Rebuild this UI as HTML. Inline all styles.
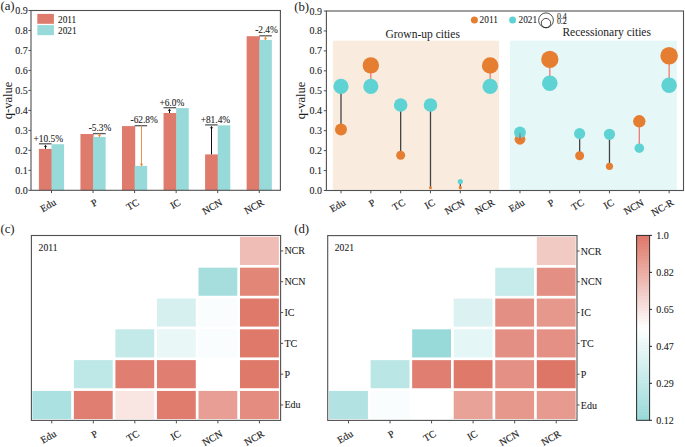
<!DOCTYPE html>
<html><head><meta charset="utf-8"><style>
html,body{margin:0;padding:0;background:#fff;}
body{width:685px;height:447px;overflow:hidden;}
svg{display:block;font-family:"Liberation Serif", serif;}
text{stroke:#1a1a1a;stroke-width:0.08px;paint-order:stroke;}
text.L{stroke:none;}
text.R{stroke-width:0.14px;}
</style></head><body>
<svg width="685" height="447" viewBox="0 0 685 447">
<rect width="685" height="447" fill="#fff"/>
<rect x="38.90" y="148.90" width="13.20" height="41.40" fill="#DF7B6C" />
<rect x="51.50" y="144.20" width="12.60" height="46.10" fill="#98DAD9" />
<rect x="80.45" y="134.00" width="13.20" height="56.30" fill="#DF7B6C" />
<rect x="93.05" y="136.90" width="12.60" height="53.40" fill="#98DAD9" />
<rect x="122.00" y="126.10" width="13.20" height="64.20" fill="#DF7B6C" />
<rect x="134.60" y="165.90" width="12.60" height="24.40" fill="#98DAD9" />
<rect x="163.55" y="113.00" width="13.20" height="77.30" fill="#DF7B6C" />
<rect x="176.15" y="108.10" width="12.60" height="82.20" fill="#98DAD9" />
<rect x="205.10" y="154.40" width="13.20" height="35.90" fill="#DF7B6C" />
<rect x="217.70" y="125.30" width="12.60" height="65.00" fill="#98DAD9" />
<rect x="246.65" y="36.20" width="13.20" height="154.10" fill="#DF7B6C" />
<rect x="259.25" y="39.90" width="12.60" height="150.40" fill="#98DAD9" />
<line x1="38.90" y1="143.80" x2="51.50" y2="143.80" stroke="#5a5a5a" stroke-width="1.3" />
<line x1="45.50" y1="148.90" x2="45.50" y2="146.90" stroke="#111" stroke-width="1.0" />
<path d="M43.95,147.10 L45.50,144.70 L47.05,147.10 Z" fill="#111"/>
<text x="48.30" y="138.60" font-size="9.4" text-anchor="middle" dominant-baseline="central" fill="#1a1a1a" >+10.5%</text>
<line x1="93.05" y1="133.60" x2="105.65" y2="133.60" stroke="#5a5a5a" stroke-width="1.3" />
<line x1="99.50" y1="133.60" x2="99.50" y2="135.00" stroke="#F09040" stroke-width="1.0" />
<path d="M97.95,134.80 L99.50,137.40 L101.05,134.80 Z" fill="#EE8A35"/>
<text x="100.00" y="127.90" font-size="9.4" text-anchor="middle" dominant-baseline="central" fill="#1a1a1a" >-5.3%</text>
<line x1="134.60" y1="125.70" x2="147.20" y2="125.70" stroke="#5a5a5a" stroke-width="1.3" />
<line x1="141.50" y1="125.70" x2="141.50" y2="164.00" stroke="#F09040" stroke-width="1.0" />
<path d="M139.95,163.80 L141.50,166.40 L143.05,163.80 Z" fill="#EE8A35"/>
<text x="144.20" y="120.00" font-size="9.4" text-anchor="middle" dominant-baseline="central" fill="#1a1a1a" >-62.8%</text>
<line x1="163.55" y1="107.70" x2="176.15" y2="107.70" stroke="#5a5a5a" stroke-width="1.3" />
<line x1="169.50" y1="113.00" x2="169.50" y2="110.80" stroke="#111" stroke-width="1.0" />
<path d="M167.95,111.00 L169.50,108.60 L171.05,111.00 Z" fill="#111"/>
<text x="171.80" y="102.50" font-size="9.4" text-anchor="middle" dominant-baseline="central" fill="#1a1a1a" >+6.0%</text>
<line x1="205.10" y1="124.90" x2="217.70" y2="124.90" stroke="#5a5a5a" stroke-width="1.3" />
<line x1="211.50" y1="154.40" x2="211.50" y2="128.00" stroke="#111" stroke-width="1.0" />
<path d="M209.95,128.20 L211.50,125.80 L213.05,128.20 Z" fill="#111"/>
<text x="215.40" y="119.50" font-size="9.4" text-anchor="middle" dominant-baseline="central" fill="#1a1a1a" >+81.4%</text>
<line x1="259.25" y1="35.80" x2="271.85" y2="35.80" stroke="#5a5a5a" stroke-width="1.3" />
<line x1="265.50" y1="35.80" x2="265.50" y2="38.00" stroke="#F09040" stroke-width="1.0" />
<path d="M263.95,37.80 L265.50,40.40 L267.05,37.80 Z" fill="#EE8A35"/>
<text x="266.50" y="30.30" font-size="9.4" text-anchor="middle" dominant-baseline="central" fill="#1a1a1a" >-2.4%</text>
<rect x="31.00" y="10.50" width="249.40" height="179.80" fill="none" stroke="#505050" stroke-width="1.1"/>
<line x1="28.40" y1="190.30" x2="31.00" y2="190.30" stroke="#505050" stroke-width="1.0" />
<text x="27.80" y="190.30" font-size="10.0" text-anchor="end" dominant-baseline="central" fill="#1a1a1a" >0.0</text>
<line x1="28.40" y1="170.32" x2="31.00" y2="170.32" stroke="#505050" stroke-width="1.0" />
<text x="27.80" y="170.32" font-size="10.0" text-anchor="end" dominant-baseline="central" fill="#1a1a1a" >0.1</text>
<line x1="28.40" y1="150.34" x2="31.00" y2="150.34" stroke="#505050" stroke-width="1.0" />
<text x="27.80" y="150.34" font-size="10.0" text-anchor="end" dominant-baseline="central" fill="#1a1a1a" >0.2</text>
<line x1="28.40" y1="130.37" x2="31.00" y2="130.37" stroke="#505050" stroke-width="1.0" />
<text x="27.80" y="130.37" font-size="10.0" text-anchor="end" dominant-baseline="central" fill="#1a1a1a" >0.3</text>
<line x1="28.40" y1="110.39" x2="31.00" y2="110.39" stroke="#505050" stroke-width="1.0" />
<text x="27.80" y="110.39" font-size="10.0" text-anchor="end" dominant-baseline="central" fill="#1a1a1a" >0.4</text>
<line x1="28.40" y1="90.41" x2="31.00" y2="90.41" stroke="#505050" stroke-width="1.0" />
<text x="27.80" y="90.41" font-size="10.0" text-anchor="end" dominant-baseline="central" fill="#1a1a1a" >0.5</text>
<line x1="28.40" y1="70.43" x2="31.00" y2="70.43" stroke="#505050" stroke-width="1.0" />
<text x="27.80" y="70.43" font-size="10.0" text-anchor="end" dominant-baseline="central" fill="#1a1a1a" >0.6</text>
<line x1="28.40" y1="50.46" x2="31.00" y2="50.46" stroke="#505050" stroke-width="1.0" />
<text x="27.80" y="50.46" font-size="10.0" text-anchor="end" dominant-baseline="central" fill="#1a1a1a" >0.7</text>
<line x1="28.40" y1="30.48" x2="31.00" y2="30.48" stroke="#505050" stroke-width="1.0" />
<text x="27.80" y="30.48" font-size="10.0" text-anchor="end" dominant-baseline="central" fill="#1a1a1a" >0.8</text>
<line x1="28.40" y1="10.50" x2="31.00" y2="10.50" stroke="#505050" stroke-width="1.0" />
<text x="27.80" y="10.50" font-size="10.0" text-anchor="end" dominant-baseline="central" fill="#1a1a1a" >0.9</text>
<line x1="51.50" y1="190.30" x2="51.50" y2="193.10" stroke="#505050" stroke-width="1.0" />
<text x="0" y="0" font-size="10.0" class="R" text-anchor="end" dominant-baseline="central" fill="#1a1a1a" transform="translate(55.00,201.30) rotate(-30)">Edu</text>
<line x1="93.05" y1="190.30" x2="93.05" y2="193.10" stroke="#505050" stroke-width="1.0" />
<text x="0" y="0" font-size="10.0" class="R" text-anchor="end" dominant-baseline="central" fill="#1a1a1a" transform="translate(96.55,201.30) rotate(-30)">P</text>
<line x1="134.60" y1="190.30" x2="134.60" y2="193.10" stroke="#505050" stroke-width="1.0" />
<text x="0" y="0" font-size="10.0" class="R" text-anchor="end" dominant-baseline="central" fill="#1a1a1a" transform="translate(138.10,201.30) rotate(-30)">TC</text>
<line x1="176.15" y1="190.30" x2="176.15" y2="193.10" stroke="#505050" stroke-width="1.0" />
<text x="0" y="0" font-size="10.0" class="R" text-anchor="end" dominant-baseline="central" fill="#1a1a1a" transform="translate(179.65,201.30) rotate(-30)">IC</text>
<line x1="217.70" y1="190.30" x2="217.70" y2="193.10" stroke="#505050" stroke-width="1.0" />
<text x="0" y="0" font-size="10.0" class="R" text-anchor="end" dominant-baseline="central" fill="#1a1a1a" transform="translate(221.20,201.30) rotate(-30)">NCN</text>
<line x1="259.25" y1="190.30" x2="259.25" y2="193.10" stroke="#505050" stroke-width="1.0" />
<text x="0" y="0" font-size="10.0" class="R" text-anchor="end" dominant-baseline="central" fill="#1a1a1a" transform="translate(262.75,201.30) rotate(-30)">NCR</text>
<text x="0" y="0" class="L" font-size="12.5" text-anchor="middle" dominant-baseline="central" fill="#1a1a1a" transform="translate(7.9,100.5) rotate(-90)">q-value</text>
<rect x="37.30" y="13.90" width="16.60" height="9.90" fill="#DF7B6C" />
<rect x="37.30" y="25.10" width="16.60" height="10.10" fill="#98DAD9" />
<text x="58.00" y="19.90" font-size="9.3" text-anchor="start" dominant-baseline="central" fill="#1a1a1a" >2011</text>
<text x="58.00" y="30.90" font-size="9.3" text-anchor="start" dominant-baseline="central" fill="#1a1a1a" >2021</text>
<text x="0.40" y="6.40" font-size="12.8" text-anchor="start" dominant-baseline="central" fill="#1a1a1a"  class="L">(a)</text>
<rect x="332.90" y="40.70" width="166.10" height="149.80" fill="#F9ECDF" />
<rect x="509.90" y="40.70" width="166.90" height="149.80" fill="#E5F7F7" />
<text x="422.70" y="34.00" font-size="11.5" text-anchor="middle" dominant-baseline="central" fill="#1a1a1a"  class="L">Grown-up cities</text>
<text x="606.70" y="32.20" font-size="11.5" text-anchor="middle" dominant-baseline="central" fill="#1a1a1a"  class="L">Recessionary cities</text>
<line x1="341.00" y1="129.60" x2="341.00" y2="86.40" stroke="#444" stroke-width="1.3" />
<circle cx="341.00" cy="129.60" r="6.00" fill="#E67E32"/>
<circle cx="341.00" cy="86.40" r="7.60" fill="#5FD3D3"/>
<line x1="370.83" y1="65.40" x2="370.83" y2="86.40" stroke="#F07A72" stroke-width="1.3" />
<circle cx="370.83" cy="65.40" r="8.20" fill="#E67E32"/>
<circle cx="370.83" cy="86.40" r="7.60" fill="#5FD3D3"/>
<line x1="400.66" y1="155.30" x2="400.66" y2="105.00" stroke="#444" stroke-width="1.3" />
<circle cx="400.66" cy="155.30" r="4.50" fill="#E67E32"/>
<circle cx="400.66" cy="105.00" r="6.80" fill="#5FD3D3"/>
<line x1="430.49" y1="187.70" x2="430.49" y2="105.00" stroke="#444" stroke-width="1.3" />
<circle cx="430.49" cy="187.70" r="1.50" fill="#E67E32"/>
<circle cx="430.49" cy="105.00" r="6.80" fill="#5FD3D3"/>
<line x1="460.32" y1="187.70" x2="460.32" y2="181.60" stroke="#444" stroke-width="1.3" />
<circle cx="460.32" cy="187.70" r="1.60" fill="#E67E32"/>
<circle cx="460.32" cy="181.60" r="2.60" fill="#5FD3D3"/>
<line x1="490.15" y1="65.50" x2="490.15" y2="86.40" stroke="#F07A72" stroke-width="1.3" />
<circle cx="490.15" cy="65.50" r="8.30" fill="#E67E32"/>
<circle cx="490.15" cy="86.40" r="7.70" fill="#5FD3D3"/>
<circle cx="519.98" cy="139.30" r="5.40" fill="#E67E32"/>
<circle cx="519.98" cy="132.40" r="5.90" fill="#5FD3D3"/>
<line x1="519.98" y1="132.90" x2="519.98" y2="140.10" stroke="#888" stroke-width="1.2" />
<line x1="519.98" y1="136.30" x2="519.98" y2="140.10" stroke="#F25C4A" stroke-width="1.2" />
<line x1="549.81" y1="59.40" x2="549.81" y2="83.30" stroke="#F07A72" stroke-width="1.3" />
<circle cx="549.81" cy="59.40" r="8.60" fill="#E67E32"/>
<circle cx="549.81" cy="83.30" r="7.80" fill="#5FD3D3"/>
<line x1="579.64" y1="155.80" x2="579.64" y2="133.60" stroke="#444" stroke-width="1.3" />
<circle cx="579.64" cy="155.80" r="4.50" fill="#E67E32"/>
<circle cx="579.64" cy="133.60" r="5.60" fill="#5FD3D3"/>
<line x1="609.47" y1="166.30" x2="609.47" y2="134.30" stroke="#444" stroke-width="1.3" />
<circle cx="609.47" cy="166.30" r="3.60" fill="#E67E32"/>
<circle cx="609.47" cy="134.30" r="5.60" fill="#5FD3D3"/>
<line x1="639.30" y1="121.30" x2="639.30" y2="148.20" stroke="#F07A72" stroke-width="1.3" />
<circle cx="639.30" cy="121.30" r="6.20" fill="#E67E32"/>
<circle cx="639.30" cy="148.20" r="4.80" fill="#5FD3D3"/>
<line x1="669.13" y1="55.80" x2="669.13" y2="85.30" stroke="#F07A72" stroke-width="1.3" />
<circle cx="669.13" cy="55.80" r="8.80" fill="#E67E32"/>
<circle cx="669.13" cy="85.30" r="7.80" fill="#5FD3D3"/>
<rect x="326.40" y="11.00" width="357.10" height="179.50" fill="none" stroke="#505050" stroke-width="1.1"/>
<line x1="323.80" y1="190.50" x2="326.40" y2="190.50" stroke="#505050" stroke-width="1.0" />
<text x="322.10" y="190.50" font-size="10.0" text-anchor="end" dominant-baseline="central" fill="#1a1a1a" >0.0</text>
<line x1="323.80" y1="170.56" x2="326.40" y2="170.56" stroke="#505050" stroke-width="1.0" />
<text x="322.10" y="170.56" font-size="10.0" text-anchor="end" dominant-baseline="central" fill="#1a1a1a" >0.1</text>
<line x1="323.80" y1="150.61" x2="326.40" y2="150.61" stroke="#505050" stroke-width="1.0" />
<text x="322.10" y="150.61" font-size="10.0" text-anchor="end" dominant-baseline="central" fill="#1a1a1a" >0.2</text>
<line x1="323.80" y1="130.67" x2="326.40" y2="130.67" stroke="#505050" stroke-width="1.0" />
<text x="322.10" y="130.67" font-size="10.0" text-anchor="end" dominant-baseline="central" fill="#1a1a1a" >0.3</text>
<line x1="323.80" y1="110.72" x2="326.40" y2="110.72" stroke="#505050" stroke-width="1.0" />
<text x="322.10" y="110.72" font-size="10.0" text-anchor="end" dominant-baseline="central" fill="#1a1a1a" >0.4</text>
<line x1="323.80" y1="90.78" x2="326.40" y2="90.78" stroke="#505050" stroke-width="1.0" />
<text x="322.10" y="90.78" font-size="10.0" text-anchor="end" dominant-baseline="central" fill="#1a1a1a" >0.5</text>
<line x1="323.80" y1="70.83" x2="326.40" y2="70.83" stroke="#505050" stroke-width="1.0" />
<text x="322.10" y="70.83" font-size="10.0" text-anchor="end" dominant-baseline="central" fill="#1a1a1a" >0.6</text>
<line x1="323.80" y1="50.89" x2="326.40" y2="50.89" stroke="#505050" stroke-width="1.0" />
<text x="322.10" y="50.89" font-size="10.0" text-anchor="end" dominant-baseline="central" fill="#1a1a1a" >0.7</text>
<line x1="323.80" y1="30.94" x2="326.40" y2="30.94" stroke="#505050" stroke-width="1.0" />
<text x="322.10" y="30.94" font-size="10.0" text-anchor="end" dominant-baseline="central" fill="#1a1a1a" >0.8</text>
<line x1="323.80" y1="11.00" x2="326.40" y2="11.00" stroke="#505050" stroke-width="1.0" />
<text x="322.10" y="11.00" font-size="10.0" text-anchor="end" dominant-baseline="central" fill="#1a1a1a" >0.9</text>
<line x1="341.00" y1="190.50" x2="341.00" y2="193.30" stroke="#505050" stroke-width="1.0" />
<text x="0" y="0" font-size="10.0" class="R" text-anchor="end" dominant-baseline="central" fill="#1a1a1a" transform="translate(344.50,201.50) rotate(-30)">Edu</text>
<line x1="370.83" y1="190.50" x2="370.83" y2="193.30" stroke="#505050" stroke-width="1.0" />
<text x="0" y="0" font-size="10.0" class="R" text-anchor="end" dominant-baseline="central" fill="#1a1a1a" transform="translate(374.33,201.50) rotate(-30)">P</text>
<line x1="400.66" y1="190.50" x2="400.66" y2="193.30" stroke="#505050" stroke-width="1.0" />
<text x="0" y="0" font-size="10.0" class="R" text-anchor="end" dominant-baseline="central" fill="#1a1a1a" transform="translate(404.16,201.50) rotate(-30)">TC</text>
<line x1="430.49" y1="190.50" x2="430.49" y2="193.30" stroke="#505050" stroke-width="1.0" />
<text x="0" y="0" font-size="10.0" class="R" text-anchor="end" dominant-baseline="central" fill="#1a1a1a" transform="translate(433.99,201.50) rotate(-30)">IC</text>
<line x1="460.32" y1="190.50" x2="460.32" y2="193.30" stroke="#505050" stroke-width="1.0" />
<text x="0" y="0" font-size="10.0" class="R" text-anchor="end" dominant-baseline="central" fill="#1a1a1a" transform="translate(463.82,201.50) rotate(-30)">NCN</text>
<line x1="490.15" y1="190.50" x2="490.15" y2="193.30" stroke="#505050" stroke-width="1.0" />
<text x="0" y="0" font-size="10.0" class="R" text-anchor="end" dominant-baseline="central" fill="#1a1a1a" transform="translate(493.65,201.50) rotate(-30)">NCR</text>
<line x1="519.98" y1="190.50" x2="519.98" y2="193.30" stroke="#505050" stroke-width="1.0" />
<text x="0" y="0" font-size="10.0" class="R" text-anchor="end" dominant-baseline="central" fill="#1a1a1a" transform="translate(523.48,201.50) rotate(-30)">Edu</text>
<line x1="549.81" y1="190.50" x2="549.81" y2="193.30" stroke="#505050" stroke-width="1.0" />
<text x="0" y="0" font-size="10.0" class="R" text-anchor="end" dominant-baseline="central" fill="#1a1a1a" transform="translate(553.31,201.50) rotate(-30)">P</text>
<line x1="579.64" y1="190.50" x2="579.64" y2="193.30" stroke="#505050" stroke-width="1.0" />
<text x="0" y="0" font-size="10.0" class="R" text-anchor="end" dominant-baseline="central" fill="#1a1a1a" transform="translate(583.14,201.50) rotate(-30)">TC</text>
<line x1="609.47" y1="190.50" x2="609.47" y2="193.30" stroke="#505050" stroke-width="1.0" />
<text x="0" y="0" font-size="10.0" class="R" text-anchor="end" dominant-baseline="central" fill="#1a1a1a" transform="translate(612.97,201.50) rotate(-30)">IC</text>
<line x1="639.30" y1="190.50" x2="639.30" y2="193.30" stroke="#505050" stroke-width="1.0" />
<text x="0" y="0" font-size="10.0" class="R" text-anchor="end" dominant-baseline="central" fill="#1a1a1a" transform="translate(642.80,201.50) rotate(-30)">NCN</text>
<line x1="669.13" y1="190.50" x2="669.13" y2="193.30" stroke="#505050" stroke-width="1.0" />
<text x="0" y="0" font-size="10.0" class="R" text-anchor="end" dominant-baseline="central" fill="#1a1a1a" transform="translate(672.63,201.50) rotate(-30)">NC-R</text>
<text x="0" y="0" class="L" font-size="12.5" text-anchor="middle" dominant-baseline="central" fill="#1a1a1a" transform="translate(301.2,100.5) rotate(-90)">q-value</text>
<circle cx="474.40" cy="19.90" r="3.50" fill="#E67E32"/>
<text x="479.60" y="20.20" font-size="9.3" text-anchor="start" dominant-baseline="central" fill="#1a1a1a" >2011</text>
<circle cx="512.60" cy="19.90" r="3.50" fill="#5FD3D3"/>
<text x="518.50" y="20.20" font-size="9.3" text-anchor="start" dominant-baseline="central" fill="#1a1a1a" >2021</text>
<circle cx="546" cy="20.3" r="7.4" fill="none" stroke="#222" stroke-width="0.8"/>
<circle cx="546" cy="23.1" r="4.7" fill="none" stroke="#222" stroke-width="0.8"/>
<text x="556.90" y="18.90" font-size="8.4" text-anchor="start" dominant-baseline="alphabetic" fill="#1a1a1a" transform="translate(556.9,0) scale(0.95,1) translate(-556.9,0)">0.4</text>
<text x="556.90" y="24.50" font-size="8.4" text-anchor="start" dominant-baseline="alphabetic" fill="#1a1a1a" transform="translate(556.9,0) scale(0.95,1) translate(-556.9,0)">0.2</text>
<text x="294.20" y="6.60" font-size="12.8" text-anchor="start" dominant-baseline="central" fill="#1a1a1a"  class="L">(b)</text>
<rect x="32.40" y="390.93" width="38.78" height="28.12" fill="#ace1e1" />
<rect x="73.88" y="390.93" width="38.83" height="28.12" fill="#e07f71" />
<rect x="115.42" y="390.93" width="38.83" height="28.12" fill="#f9e5e2" />
<rect x="156.95" y="390.93" width="38.83" height="28.12" fill="#e07c6e" />
<rect x="198.48" y="390.93" width="38.83" height="28.12" fill="#e89e94" />
<rect x="240.02" y="390.93" width="38.83" height="28.12" fill="#e38c7f" />
<rect x="73.88" y="360.12" width="38.83" height="28.12" fill="#bee7e7" />
<rect x="115.42" y="360.12" width="38.83" height="28.12" fill="#e07f71" />
<rect x="156.95" y="360.12" width="38.83" height="28.12" fill="#e07f71" />
<rect x="198.48" y="360.12" width="38.83" height="28.12" fill="#ffffff" />
<rect x="240.02" y="360.12" width="38.83" height="28.12" fill="#df796a" />
<rect x="115.42" y="329.30" width="38.83" height="28.12" fill="#c3e9e9" />
<rect x="156.95" y="329.30" width="38.83" height="28.12" fill="#eaf7f7" />
<rect x="198.48" y="329.30" width="38.83" height="28.12" fill="#f9fdfd" />
<rect x="240.02" y="329.30" width="38.83" height="28.12" fill="#df796a" />
<rect x="156.95" y="298.48" width="38.83" height="28.12" fill="#d6f0f0" />
<rect x="198.48" y="298.48" width="38.83" height="28.12" fill="#f9fdfd" />
<rect x="240.02" y="298.48" width="38.83" height="28.12" fill="#df796a" />
<rect x="198.48" y="267.67" width="38.83" height="28.12" fill="#a6dede" />
<rect x="240.02" y="267.67" width="38.83" height="28.12" fill="#e28678" />
<rect x="240.02" y="236.85" width="38.83" height="28.12" fill="#efbdb6" />
<rect x="31.40" y="235.50" width="249.20" height="184.90" fill="none" stroke="#505050" stroke-width="1.1"/>
<line x1="51.77" y1="420.40" x2="51.77" y2="423.40" stroke="#505050" stroke-width="1.0" />
<text x="0" y="0" font-size="10.0" class="R" text-anchor="end" dominant-baseline="central" fill="#1a1a1a" transform="translate(55.27,432.70) rotate(-30)">Edu</text>
<line x1="93.30" y1="420.40" x2="93.30" y2="423.40" stroke="#505050" stroke-width="1.0" />
<text x="0" y="0" font-size="10.0" class="R" text-anchor="end" dominant-baseline="central" fill="#1a1a1a" transform="translate(96.80,432.70) rotate(-30)">P</text>
<line x1="134.83" y1="420.40" x2="134.83" y2="423.40" stroke="#505050" stroke-width="1.0" />
<text x="0" y="0" font-size="10.0" class="R" text-anchor="end" dominant-baseline="central" fill="#1a1a1a" transform="translate(138.33,432.70) rotate(-30)">TC</text>
<line x1="176.37" y1="420.40" x2="176.37" y2="423.40" stroke="#505050" stroke-width="1.0" />
<text x="0" y="0" font-size="10.0" class="R" text-anchor="end" dominant-baseline="central" fill="#1a1a1a" transform="translate(179.87,432.70) rotate(-30)">IC</text>
<line x1="217.90" y1="420.40" x2="217.90" y2="423.40" stroke="#505050" stroke-width="1.0" />
<text x="0" y="0" font-size="10.0" class="R" text-anchor="end" dominant-baseline="central" fill="#1a1a1a" transform="translate(221.40,432.70) rotate(-30)">NCN</text>
<line x1="259.43" y1="420.40" x2="259.43" y2="423.40" stroke="#505050" stroke-width="1.0" />
<text x="0" y="0" font-size="10.0" class="R" text-anchor="end" dominant-baseline="central" fill="#1a1a1a" transform="translate(262.93,432.70) rotate(-30)">NCR</text>
<line x1="280.60" y1="250.91" x2="283.20" y2="250.91" stroke="#505050" stroke-width="1.0" />
<text x="284.40" y="250.91" font-size="10.0" text-anchor="start" dominant-baseline="central" fill="#1a1a1a" >NCR</text>
<line x1="280.60" y1="281.73" x2="283.20" y2="281.73" stroke="#505050" stroke-width="1.0" />
<text x="284.40" y="281.73" font-size="10.0" text-anchor="start" dominant-baseline="central" fill="#1a1a1a" >NCN</text>
<line x1="280.60" y1="312.54" x2="283.20" y2="312.54" stroke="#505050" stroke-width="1.0" />
<text x="284.40" y="312.54" font-size="10.0" text-anchor="start" dominant-baseline="central" fill="#1a1a1a" >IC</text>
<line x1="280.60" y1="343.36" x2="283.20" y2="343.36" stroke="#505050" stroke-width="1.0" />
<text x="284.40" y="343.36" font-size="10.0" text-anchor="start" dominant-baseline="central" fill="#1a1a1a" >TC</text>
<line x1="280.60" y1="374.17" x2="283.20" y2="374.17" stroke="#505050" stroke-width="1.0" />
<text x="284.40" y="374.17" font-size="10.0" text-anchor="start" dominant-baseline="central" fill="#1a1a1a" >P</text>
<line x1="280.60" y1="404.99" x2="283.20" y2="404.99" stroke="#505050" stroke-width="1.0" />
<text x="284.40" y="404.99" font-size="10.0" text-anchor="start" dominant-baseline="central" fill="#1a1a1a" >Edu</text>
<text x="38.60" y="247.80" font-size="9.6" text-anchor="start" dominant-baseline="central" fill="#1a1a1a" >2011</text>
<rect x="329.05" y="390.95" width="38.85" height="28.10" fill="#b2e2e2" />
<rect x="370.60" y="390.95" width="38.85" height="28.10" fill="#fafdfd" />
<rect x="412.15" y="390.95" width="38.85" height="28.10" fill="#ffffff" />
<rect x="453.70" y="390.95" width="38.85" height="28.10" fill="#e8a297" />
<rect x="495.25" y="390.95" width="38.85" height="28.10" fill="#e6988d" />
<rect x="536.80" y="390.95" width="38.85" height="28.10" fill="#e79b90" />
<rect x="370.60" y="360.15" width="38.85" height="28.10" fill="#bae6e6" />
<rect x="412.15" y="360.15" width="38.85" height="28.10" fill="#e07f71" />
<rect x="453.70" y="360.15" width="38.85" height="28.10" fill="#df796a" />
<rect x="495.25" y="360.15" width="38.85" height="28.10" fill="#e49084" />
<rect x="536.80" y="360.15" width="38.85" height="28.10" fill="#de7667" />
<rect x="412.15" y="329.35" width="38.85" height="28.10" fill="#98d9d9" />
<rect x="453.70" y="329.35" width="38.85" height="28.10" fill="#e5f6f6" />
<rect x="495.25" y="329.35" width="38.85" height="28.10" fill="#e48f83" />
<rect x="536.80" y="329.35" width="38.85" height="28.10" fill="#e49084" />
<rect x="453.70" y="298.55" width="38.85" height="28.10" fill="#dcf2f2" />
<rect x="495.25" y="298.55" width="38.85" height="28.10" fill="#e48f83" />
<rect x="536.80" y="298.55" width="38.85" height="28.10" fill="#e6988d" />
<rect x="495.25" y="267.75" width="38.85" height="28.10" fill="#c7eaea" />
<rect x="536.80" y="267.75" width="38.85" height="28.10" fill="#e48f83" />
<rect x="536.80" y="236.95" width="38.85" height="28.10" fill="#f2cac4" />
<rect x="327.70" y="235.60" width="249.30" height="184.80" fill="none" stroke="#505050" stroke-width="1.1"/>
<line x1="348.47" y1="420.40" x2="348.47" y2="423.40" stroke="#505050" stroke-width="1.0" />
<text x="0" y="0" font-size="10.0" class="R" text-anchor="end" dominant-baseline="central" fill="#1a1a1a" transform="translate(351.97,432.70) rotate(-30)">Edu</text>
<line x1="390.02" y1="420.40" x2="390.02" y2="423.40" stroke="#505050" stroke-width="1.0" />
<text x="0" y="0" font-size="10.0" class="R" text-anchor="end" dominant-baseline="central" fill="#1a1a1a" transform="translate(393.52,432.70) rotate(-30)">P</text>
<line x1="431.57" y1="420.40" x2="431.57" y2="423.40" stroke="#505050" stroke-width="1.0" />
<text x="0" y="0" font-size="10.0" class="R" text-anchor="end" dominant-baseline="central" fill="#1a1a1a" transform="translate(435.07,432.70) rotate(-30)">TC</text>
<line x1="473.12" y1="420.40" x2="473.12" y2="423.40" stroke="#505050" stroke-width="1.0" />
<text x="0" y="0" font-size="10.0" class="R" text-anchor="end" dominant-baseline="central" fill="#1a1a1a" transform="translate(476.62,432.70) rotate(-30)">IC</text>
<line x1="514.67" y1="420.40" x2="514.67" y2="423.40" stroke="#505050" stroke-width="1.0" />
<text x="0" y="0" font-size="10.0" class="R" text-anchor="end" dominant-baseline="central" fill="#1a1a1a" transform="translate(518.17,432.70) rotate(-30)">NCN</text>
<line x1="556.23" y1="420.40" x2="556.23" y2="423.40" stroke="#505050" stroke-width="1.0" />
<text x="0" y="0" font-size="10.0" class="R" text-anchor="end" dominant-baseline="central" fill="#1a1a1a" transform="translate(559.73,432.70) rotate(-30)">NCR</text>
<line x1="577.00" y1="251.00" x2="579.60" y2="251.00" stroke="#505050" stroke-width="1.0" />
<text x="580.80" y="251.00" font-size="10.0" text-anchor="start" dominant-baseline="central" fill="#1a1a1a" >NCR</text>
<line x1="577.00" y1="281.80" x2="579.60" y2="281.80" stroke="#505050" stroke-width="1.0" />
<text x="580.80" y="281.80" font-size="10.0" text-anchor="start" dominant-baseline="central" fill="#1a1a1a" >NCN</text>
<line x1="577.00" y1="312.60" x2="579.60" y2="312.60" stroke="#505050" stroke-width="1.0" />
<text x="580.80" y="312.60" font-size="10.0" text-anchor="start" dominant-baseline="central" fill="#1a1a1a" >IC</text>
<line x1="577.00" y1="343.40" x2="579.60" y2="343.40" stroke="#505050" stroke-width="1.0" />
<text x="580.80" y="343.40" font-size="10.0" text-anchor="start" dominant-baseline="central" fill="#1a1a1a" >TC</text>
<line x1="577.00" y1="374.20" x2="579.60" y2="374.20" stroke="#505050" stroke-width="1.0" />
<text x="580.80" y="374.20" font-size="10.0" text-anchor="start" dominant-baseline="central" fill="#1a1a1a" >P</text>
<line x1="577.00" y1="405.00" x2="579.60" y2="405.00" stroke="#505050" stroke-width="1.0" />
<text x="580.80" y="405.00" font-size="10.0" text-anchor="start" dominant-baseline="central" fill="#1a1a1a" >Edu</text>
<text x="334.80" y="247.80" font-size="9.6" text-anchor="start" dominant-baseline="central" fill="#1a1a1a" >2021</text>
<text x="0.40" y="229.40" font-size="12.8" text-anchor="start" dominant-baseline="central" fill="#1a1a1a"  class="L">(c)</text>
<text x="294.20" y="229.40" font-size="12.8" text-anchor="start" dominant-baseline="central" fill="#1a1a1a"  class="L">(d)</text>
<defs><linearGradient id="cbg" x1="0" y1="0" x2="0" y2="1"><stop offset="0.0000" stop-color="#df7869"/><stop offset="0.0156" stop-color="#df7869"/><stop offset="0.0156" stop-color="#e07c6e"/><stop offset="0.0312" stop-color="#e07c6e"/><stop offset="0.0312" stop-color="#e18173"/><stop offset="0.0469" stop-color="#e18173"/><stop offset="0.0469" stop-color="#e28578"/><stop offset="0.0625" stop-color="#e28578"/><stop offset="0.0625" stop-color="#e3897c"/><stop offset="0.0781" stop-color="#e3897c"/><stop offset="0.0781" stop-color="#e48e81"/><stop offset="0.0938" stop-color="#e48e81"/><stop offset="0.0938" stop-color="#e59286"/><stop offset="0.1094" stop-color="#e59286"/><stop offset="0.1094" stop-color="#e6968b"/><stop offset="0.1250" stop-color="#e6968b"/><stop offset="0.1250" stop-color="#e79a8f"/><stop offset="0.1406" stop-color="#e79a8f"/><stop offset="0.1406" stop-color="#e89f94"/><stop offset="0.1562" stop-color="#e89f94"/><stop offset="0.1562" stop-color="#e9a399"/><stop offset="0.1719" stop-color="#e9a399"/><stop offset="0.1719" stop-color="#eaa79e"/><stop offset="0.1875" stop-color="#eaa79e"/><stop offset="0.1875" stop-color="#ebaca2"/><stop offset="0.2031" stop-color="#ebaca2"/><stop offset="0.2031" stop-color="#ecb0a7"/><stop offset="0.2188" stop-color="#ecb0a7"/><stop offset="0.2188" stop-color="#edb4ac"/><stop offset="0.2344" stop-color="#edb4ac"/><stop offset="0.2344" stop-color="#eeb8b1"/><stop offset="0.2500" stop-color="#eeb8b1"/><stop offset="0.2500" stop-color="#efbdb5"/><stop offset="0.2656" stop-color="#efbdb5"/><stop offset="0.2656" stop-color="#f0c1ba"/><stop offset="0.2812" stop-color="#f0c1ba"/><stop offset="0.2812" stop-color="#f1c5bf"/><stop offset="0.2969" stop-color="#f1c5bf"/><stop offset="0.2969" stop-color="#f2c9c4"/><stop offset="0.3125" stop-color="#f2c9c4"/><stop offset="0.3125" stop-color="#f3cec8"/><stop offset="0.3281" stop-color="#f3cec8"/><stop offset="0.3281" stop-color="#f4d2cd"/><stop offset="0.3438" stop-color="#f4d2cd"/><stop offset="0.3438" stop-color="#f5d6d2"/><stop offset="0.3594" stop-color="#f5d6d2"/><stop offset="0.3594" stop-color="#f6dbd7"/><stop offset="0.3750" stop-color="#f6dbd7"/><stop offset="0.3750" stop-color="#f7dfdb"/><stop offset="0.3906" stop-color="#f7dfdb"/><stop offset="0.3906" stop-color="#f8e3e0"/><stop offset="0.4062" stop-color="#f8e3e0"/><stop offset="0.4062" stop-color="#f9e7e5"/><stop offset="0.4219" stop-color="#f9e7e5"/><stop offset="0.4219" stop-color="#faecea"/><stop offset="0.4375" stop-color="#faecea"/><stop offset="0.4375" stop-color="#fbf0ee"/><stop offset="0.4531" stop-color="#fbf0ee"/><stop offset="0.4531" stop-color="#fcf4f3"/><stop offset="0.4688" stop-color="#fcf4f3"/><stop offset="0.4688" stop-color="#fdf9f8"/><stop offset="0.4844" stop-color="#fdf9f8"/><stop offset="0.4844" stop-color="#fefdfd"/><stop offset="0.5000" stop-color="#fefdfd"/><stop offset="0.5000" stop-color="#fdfefe"/><stop offset="0.5156" stop-color="#fdfefe"/><stop offset="0.5156" stop-color="#fafdfd"/><stop offset="0.5312" stop-color="#fafdfd"/><stop offset="0.5312" stop-color="#f7fcfc"/><stop offset="0.5469" stop-color="#f7fcfc"/><stop offset="0.5469" stop-color="#f4fbfb"/><stop offset="0.5625" stop-color="#f4fbfb"/><stop offset="0.5625" stop-color="#f1fafa"/><stop offset="0.5781" stop-color="#f1fafa"/><stop offset="0.5781" stop-color="#edf8f8"/><stop offset="0.5938" stop-color="#edf8f8"/><stop offset="0.5938" stop-color="#eaf7f7"/><stop offset="0.6094" stop-color="#eaf7f7"/><stop offset="0.6094" stop-color="#e7f6f6"/><stop offset="0.6250" stop-color="#e7f6f6"/><stop offset="0.6250" stop-color="#e4f5f5"/><stop offset="0.6406" stop-color="#e4f5f5"/><stop offset="0.6406" stop-color="#e0f4f4"/><stop offset="0.6562" stop-color="#e0f4f4"/><stop offset="0.6562" stop-color="#ddf3f3"/><stop offset="0.6719" stop-color="#ddf3f3"/><stop offset="0.6719" stop-color="#daf1f1"/><stop offset="0.6875" stop-color="#daf1f1"/><stop offset="0.6875" stop-color="#d7f0f0"/><stop offset="0.7031" stop-color="#d7f0f0"/><stop offset="0.7031" stop-color="#d4efef"/><stop offset="0.7188" stop-color="#d4efef"/><stop offset="0.7188" stop-color="#d0eeee"/><stop offset="0.7344" stop-color="#d0eeee"/><stop offset="0.7344" stop-color="#cdeded"/><stop offset="0.7500" stop-color="#cdeded"/><stop offset="0.7500" stop-color="#caebeb"/><stop offset="0.7656" stop-color="#caebeb"/><stop offset="0.7656" stop-color="#c7eaea"/><stop offset="0.7812" stop-color="#c7eaea"/><stop offset="0.7812" stop-color="#c3e9e9"/><stop offset="0.7969" stop-color="#c3e9e9"/><stop offset="0.7969" stop-color="#c0e8e8"/><stop offset="0.8125" stop-color="#c0e8e8"/><stop offset="0.8125" stop-color="#bde7e7"/><stop offset="0.8281" stop-color="#bde7e7"/><stop offset="0.8281" stop-color="#bae5e5"/><stop offset="0.8438" stop-color="#bae5e5"/><stop offset="0.8438" stop-color="#b7e4e4"/><stop offset="0.8594" stop-color="#b7e4e4"/><stop offset="0.8594" stop-color="#b3e3e3"/><stop offset="0.8750" stop-color="#b3e3e3"/><stop offset="0.8750" stop-color="#b0e2e2"/><stop offset="0.8906" stop-color="#b0e2e2"/><stop offset="0.8906" stop-color="#ade1e1"/><stop offset="0.9062" stop-color="#ade1e1"/><stop offset="0.9062" stop-color="#aae0e0"/><stop offset="0.9219" stop-color="#aae0e0"/><stop offset="0.9219" stop-color="#a6dede"/><stop offset="0.9375" stop-color="#a6dede"/><stop offset="0.9375" stop-color="#a3dddd"/><stop offset="0.9531" stop-color="#a3dddd"/><stop offset="0.9531" stop-color="#a0dcdc"/><stop offset="0.9688" stop-color="#a0dcdc"/><stop offset="0.9688" stop-color="#9ddbdb"/><stop offset="0.9844" stop-color="#9ddbdb"/><stop offset="0.9844" stop-color="#9adada"/><stop offset="1.0000" stop-color="#9adada"/></linearGradient></defs>
<rect x="636.60" y="235.40" width="13.00" height="184.90" fill="url(#cbg)"/>
<rect x="636.60" y="235.40" width="13.00" height="184.90" fill="none" stroke="#2a2a2a" stroke-width="1.0"/>
<line x1="649.60" y1="235.40" x2="652.00" y2="235.40" stroke="#222" stroke-width="1.0" />
<text x="656.20" y="235.40" font-size="10.0" text-anchor="start" dominant-baseline="central" fill="#1a1a1a" >1.0</text>
<line x1="649.60" y1="272.38" x2="652.00" y2="272.38" stroke="#222" stroke-width="1.0" />
<text x="656.20" y="272.38" font-size="10.0" text-anchor="start" dominant-baseline="central" fill="#1a1a1a" >0.82</text>
<line x1="649.60" y1="309.36" x2="652.00" y2="309.36" stroke="#222" stroke-width="1.0" />
<text x="656.20" y="309.36" font-size="10.0" text-anchor="start" dominant-baseline="central" fill="#1a1a1a" >0.65</text>
<line x1="649.60" y1="346.34" x2="652.00" y2="346.34" stroke="#222" stroke-width="1.0" />
<text x="656.20" y="346.34" font-size="10.0" text-anchor="start" dominant-baseline="central" fill="#1a1a1a" >0.47</text>
<line x1="649.60" y1="383.32" x2="652.00" y2="383.32" stroke="#222" stroke-width="1.0" />
<text x="656.20" y="383.32" font-size="10.0" text-anchor="start" dominant-baseline="central" fill="#1a1a1a" >0.29</text>
<line x1="649.60" y1="420.30" x2="652.00" y2="420.30" stroke="#222" stroke-width="1.0" />
<text x="656.20" y="420.30" font-size="10.0" text-anchor="start" dominant-baseline="central" fill="#1a1a1a" >0.12</text>
</svg>
</body></html>
